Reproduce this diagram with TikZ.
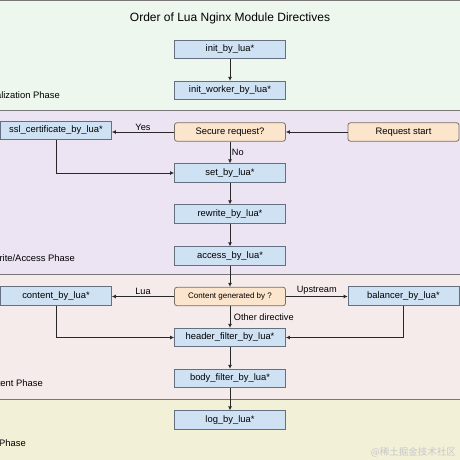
\documentclass[tikz,border=0pt]{standalone}
\usepackage{fontspec}
\setmainfont{Liberation Sans}
\newfontfamily\cjkfont{Noto Sans CJK SC}
\usetikzlibrary{arrows.meta}
\definecolor{initband}{RGB}{238, 247, 238}
\definecolor{accessband}{RGB}{237, 228, 243}
\definecolor{contentband}{RGB}{245, 235, 235}
\definecolor{logband}{RGB}{243, 240, 216}
\definecolor{bandline}{RGB}{120, 120, 120}
\definecolor{boxfill}{RGB}{207, 226, 243}
\definecolor{boxline}{RGB}{100, 112, 128}
\definecolor{askfill}{RGB}{252, 229, 205}
\definecolor{askline}{RGB}{120, 110, 100}
\definecolor{arrowgray}{RGB}{40, 40, 40}

\begin{document}
\begin{tikzpicture}[x=1pt, y=-1pt,
    directive/.style={draw=boxline, fill=boxfill, thick, minimum width=111pt, minimum height=18.5pt, inner sep=0pt, font=\fontsize{9.4}{10}\selectfont},
    question/.style={directive, draw=askline, fill=askfill, rounded corners=2.5pt},
    phase/.style={anchor=base east, inner sep=0pt, font=\fontsize{9.4}{10}\selectfont},
    flow/.style={draw=arrowgray, thick, -{Latex[length=4pt,width=4pt]}},
    tag/.style={font=\fontsize{9.2}{10}\selectfont, inner sep=1.5pt}]
            \useasboundingbox (0,0) rectangle (460,460);
            \clip (0,0) rectangle (460,460);
            \fill[initband]    (0,  0) rectangle (460,110);
            \fill[accessband]  (0,110) rectangle (460,274);
            \fill[contentband] (0,274) rectangle (460,399);
            \fill[logband]     (0,399) rectangle (460,460);
            \draw[bandline, thick] (0,0.6) -- (460,0.6);
            \draw[bandline, thick] (0,110) -- (460,110);
            \draw[bandline, thick] (0,274) -- (460,274);
            \draw[bandline, thick] (0,399) -- (460,399);
            % phase titles, cut at the left edge
            \node[phase] (initphase)    at (60, 98)  {Initialization Phase};
            \node[phase] (accessphase)  at (75, 261) {Rewrite/Access Phase};
            \node[phase] (contentphase) at (43, 386) {Content Phase};
            \node[phase] (logphase)     at (26, 446) {Log Phase};
            \node[font=\fontsize{12}{14}\selectfont] (title) at (230, 18) {Order of Lua Nginx Module Directives};
            % directives
            \node[directive] (init)    at (230, 49.5)  {init\_by\_lua*};
            \node[directive] (worker)  at (230, 90.5)  {init\_worker\_by\_lua*};
            \node[directive] (ssl)     at (56, 130.5)  {ssl\_certificate\_by\_lua*};
            \node[question]  (secure)  at (230, 132)   {Secure request?};
            \node[question]  (start)   at (403.5, 132) {Request start};
            \node[directive] (set)     at (230, 173)   {set\_by\_lua*};
            \node[directive] (rewrite) at (230, 214)   {rewrite\_by\_lua*};
            \node[directive] (access)  at (230, 256)   {access\_by\_lua*};
            \node[directive] (content) at (56, 296)    {content\_by\_lua*};
            \node[question, font=\fontsize{8}{9}\selectfont] (generated) at (230, 296.5) {Content generated by ?};
            \node[directive] (balancer) at (403.5, 296) {balancer\_by\_lua*};
            \node[directive] (header)  at (230, 337.5) {header\_filter\_by\_lua*};
            \node[directive] (body)    at (230, 378.5) {body\_filter\_by\_lua*};
            \node[directive] (log)     at (230, 420)   {log\_by\_lua*};
            % connectors
            \draw[flow] (init) -- (worker);
            \draw[flow] (start) -- (secure);
            \draw[flow] (secure) -- node[tag, above] {Yes} (ssl.east |- secure);
            \draw[flow] (secure) -- node[tag, right] {No} (set);
            \draw[flow] (ssl.south) |- (set.west);
            \draw[flow] (set) -- (rewrite);
            \draw[flow] (rewrite) -- (access);
            \draw[flow] (access) -- (generated);
            \draw[flow] (generated) -- node[tag, above] {Lua} (content.east |- generated);
            \draw[flow] (generated) -- node[tag, above] {Upstream} (balancer.west |- generated);
            \draw[flow] (generated) -- node[tag, right, xshift=2pt] {Other directive} (header);
            \draw[flow] (content.south) |- (header.west);
            \draw[flow] (balancer.south) |- (header.east);
            \draw[flow] (header) -- (body);
            \draw[flow] (body) -- (log);
            \node[anchor=base east, inner sep=0pt, text=black!22, font=\cjkfont\fontsize{9.5}{11}\selectfont] (mark) at (456, 455) {@稀土掘金技术社区};
        \end{tikzpicture}
\end{document}
